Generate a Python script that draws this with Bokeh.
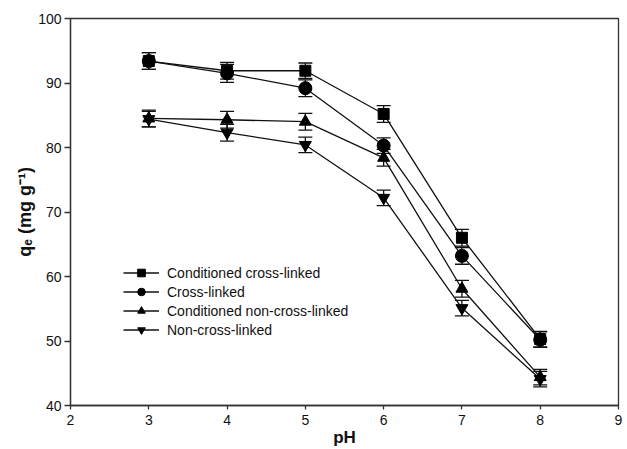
from bokeh.plotting import figure
from bokeh.models import (ColumnDataSource, Whisker, TeeHead, Legend, LegendItem,
                          FixedTicker, Range1d)
from bokeh.embed import file_html
from bokeh.resources import INLINE

# ---- data ----
ph = [3, 4, 5, 6, 7, 8]
series_names = ["Conditioned cross-linked", "Cross-linked",
                "Conditioned non-cross-linked", "Non-cross-linked"]
cond_cross = [93.4, 91.9, 91.9, 85.2, 66.0, 50.3]
cross = [93.4, 91.5, 89.2, 80.3, 63.2, 50.2]
cond_noncross = [84.5, 84.3, 84.0, 78.4, 58.1, 44.4]
noncross = [84.4, 82.3, 80.4, 72.2, 55.1, 44.1]
err_cond_cross = [1.3, 1.3, 1.2, 1.3, 1.3, 1.2]
err_cross = [1.3, 1.4, 1.3, 1.2, 1.3, 1.2]
err_cond_noncross = [1.3, 1.3, 1.3, 1.3, 1.3, 1.2]
err_noncross = [1.2, 1.3, 1.2, 1.2, 1.2, 1.2]
x_ticks = [2, 3, 4, 5, 6, 7, 8, 9]
y_ticks = [40, 50, 60, 70, 80, 90, 100]
x_title = "pH"
y_title = "q\u2091 (mg g\u207b\u00b9)"

markers = ["square", "circle", "triangle", "inverted_triangle"]
msizes = [11, 13, 12, 12]
values = [cond_cross, cross, cond_noncross, noncross]
errs = [err_cond_cross, err_cross, err_cond_noncross, err_noncross]

FONT = "Liberation Sans"
INK = "#111111"

p = figure(width=627, height=449, output_backend="svg", toolbar_location=None,
           x_range=Range1d(2, 9), y_range=Range1d(40, 100),
           min_border_left=70, min_border_right=9, min_border_top=18,
           min_border_bottom=42)
p.grid.visible = False
p.outline_line_color = "#333333"
p.outline_line_width = 1.3
p.background_fill_color = "white"
p.border_fill_color = "white"

for ax, ticks in ((p.xaxis[0], x_ticks), (p.yaxis[0], y_ticks)):
    ax.ticker = FixedTicker(ticks=ticks)
    ax.minor_tick_line_color = None
    ax.major_tick_in = 0
    ax.axis_line_color = "#333333"
    ax.axis_line_width = 1.3
    ax.major_tick_line_color = "#333333"
    ax.major_tick_line_width = 1.3
    ax.major_label_text_font = FONT
    ax.major_label_text_font_size = "14px"
    ax.major_label_text_color = "#111111"
    ax.axis_label_text_font = FONT
    ax.axis_label_text_font_style = "bold"
    ax.axis_label_text_font_size = "17px"
    ax.axis_label_text_color = "#111111"
    ax.axis_label_standoff = 0
p.yaxis.axis_label_text_font_size = "18px"
p.xaxis.major_tick_out = 4
p.xaxis.major_label_standoff = 5
p.yaxis.major_tick_out = 6
p.yaxis.major_label_standoff = 3
p.xaxis.axis_label = x_title
p.yaxis.axis_label = y_title

items = []
for name, mk, ms, vals, er in zip(series_names, markers, msizes, values, errs):
    src = ColumnDataSource(dict(x=ph, y=vals,
                                lo=[v - e for v, e in zip(vals, er)],
                                hi=[v + e for v, e in zip(vals, er)]))
    ln = p.line("x", "y", source=src, line_color=INK, line_width=1.3)
    w = Whisker(source=src, base="x", lower="lo", upper="hi",
                line_color=INK, line_width=1.3,
                upper_head=TeeHead(size=14, line_color=INK, line_width=1.3),
                lower_head=TeeHead(size=14, line_color=INK, line_width=1.3))
    p.add_layout(w)
    sc = p.scatter("x", "y", source=src, marker=mk, size=ms,
                   fill_color="black", line_color="black")
    items.append(LegendItem(label=name, renderers=[ln, sc]))

legend = Legend(items=items, location=(53, 66), glyph_width=36, glyph_height=19,
                spacing=0, label_standoff=8, padding=0, margin=0,
                border_line_color=None, background_fill_alpha=0,
                label_text_font=FONT, label_text_font_size="14px",
                label_text_color="#111111", label_height=19)
p.add_layout(legend)

open("out.html", "w").write(file_html(p, INLINE))
